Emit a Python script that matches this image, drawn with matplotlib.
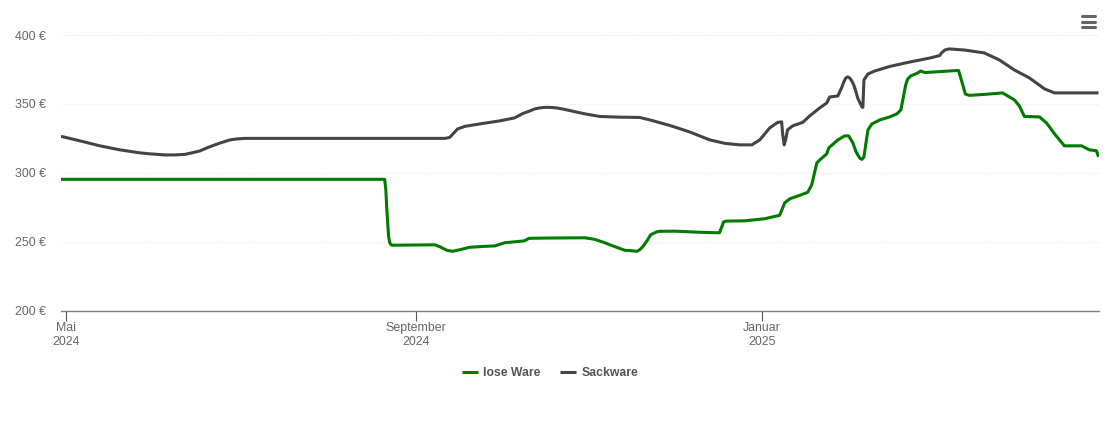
#!/usr/bin/env python3
"""Preisverlauf lose Ware / Sackware"""

import pandas as pd
import matplotlib
matplotlib.use("Agg")
import matplotlib.pyplot as plt
from matplotlib.lines import Line2D

plt.rcParams['font.family'] = ['Liberation Sans', 'DejaVu Sans']

W, H = 1110, 422
START = pd.Timestamp("2024-05-01")

# (Tage seit 1. Mai 2024, Preis in Euro)
lose_ware = [
    (-1.9, 295.3), (112.1, 295.3), (112.5, 287.7), (112.8, 275.4), (113.2, 262.3), (113.5, 253.6),
    (113.9, 249.3), (114.2, 248.2), (114.6, 247.5),
    (129.8, 247.8), (131.5, 246.4), (134, 243.8), (136, 243.1), (138.5, 244.2), (142, 246),
    (147.4, 246.7), (150.9, 247), (154.4, 249.3), (158, 250), (161.4, 250.7), (162.9, 252.5),
    (168.5, 252.7), (182.6, 252.9), (186, 251.8), (189.6, 249.3), (191.4, 247.8), (196.7, 243.8),
    (199.1, 243.5), (200.9, 243.1), (201.9, 244.2),
    (203, 246.4), (204.7, 251.4), (205.8, 255.1), (207.2, 256.5), (207.9, 257.2), (209, 257.6),
    (214.3, 257.7), (223, 256.9), (230, 256.5),
    (231.5, 264.5), (232.5, 265), (238.9, 265.2), (245.9, 266.7), (251.2, 269.2), (253, 278.3),
    (254.8, 281.2), (258.3, 283.7), (261.1, 285.9), (262.5, 291.3), (264.3, 307.2), (265.7, 310.1),
    (267.8, 313.8), (268.5, 318.1), (271.7, 323.9), (274.1, 326.8), (275.5, 326.8), (277, 321.7),
    (278, 315.9), (278.7, 313), (279.5, 310.5), (280.2, 309.8), (280.9, 311.6), (281.6, 321.7),
    (282.3, 331.2), (283.7, 335.5), (286.5, 338.4),
    (290, 340.6), (292.5, 342.8), (293.9, 345.7), (295.6, 363.8), (296.3, 368.1), (297.4, 370.3),
    (298.1, 371), (299.5, 372.1),
    (300.9, 373.9), (302.3, 372.8), (305.8, 373.2), (311, 373.9), (314.2, 374.3), (315.2, 367.4),
    (316.6, 357.2), (318, 356.2), (323.3, 356.9), (329.7, 358), (333.9, 352.9), (335.6, 348.6),
    (337.4, 340.9), (342.7, 340.6), (345.2, 336.2), (348, 328.3), (351.5, 319.6), (357.5, 319.6),
    (360.3, 316.7), (362.8, 316), (363.5, 311.6),
]
sackware = [
    (-1.9, 326.5), (4.8, 323.2), (11.8, 319.6), (18.8, 316.7), (25.9, 314.5), (29.4, 313.8),
    (34.7, 313), (38.2, 313), (41.7, 313.4), (44.2, 314.5), (47, 315.9), (49.5, 318.1),
    (52.3, 320.3), (54.8, 322.1), (57.6, 323.9), (60, 324.6), (62.9, 325), (71.7, 325),
    (133.3, 325), (135, 325.7), (137.8, 331.9), (140.3, 333.7), (145.6, 335.5), (152.6, 337.7),
    (157.9, 339.9), (160.7, 343), (163.2, 344.9), (165, 346.4), (166.7, 347.1), (168.5, 347.5),
    (170.2, 347.5), (172.7, 347.1), (175.5, 346), (182.6, 342.8),
    (187.9, 340.9), (194.9, 340.4), (201.9, 340.2), (205.5, 338.4), (212.5, 334.4), (219.5, 329.7),
    (226.6, 323.9), (231.9, 321.4), (237.1, 320.3), (241.4, 320.3), (244.2, 323.9), (247.7, 332.6),
    (250.5, 336.6), (251.9, 337), (252.3, 327.5), (252.8, 320.3), (253.3, 323.9), (254, 331.2),
    (255.8, 334.1), (259.3, 336.6), (261.8, 341.3), (265.3, 347.1), (267.8, 350.7), (268.8, 355),
    (271.7, 355.8), (273, 361.6), (273.8, 366), (274.5, 368.8), (275.2, 369.6), (275.9, 368.8),
    (276.6, 366.7), (277.3, 363.8), (278, 359.4), (278.7, 354.3), (279.5, 350.7),
    (280.2, 347.8), (280.5, 347.5), (280.9, 367.4), (282.3, 371.7), (284.7, 373.9), (290, 377.2),
    (297, 380.4), (304.1, 383.3), (307.6, 385.1), (308.2, 387), (309.4, 389.1), (310, 389.5),
    (311, 389.9), (316.3, 389.1),
    (323.3, 387), (328.6, 381.9), (333.9, 374.6), (339.2, 368.8), (344.5, 360.9), (348, 358),
    (363.5, 358),
]


def to_frame(points):
    df = pd.DataFrame(points, columns=["tag", "preis"])
    df["datum"] = START + pd.to_timedelta(df["tag"], unit="D")
    return df


fig = plt.figure(figsize=(W / 100, H / 100), dpi=100, facecolor="white")
ax = fig.add_axes([61 / W, 1 - 310.7 / H, (1098.5 - 61) / W, (310.7 - 35) / H])

for points, color, label in [(lose_ware, "#007a00", "lose Ware"), (sackware, "#444444", "Sackware")]:
    df = to_frame(points)
    ax.plot(df["datum"], df["preis"], color=color, lw=2.2, label=label,
            solid_joinstyle="round", solid_capstyle="butt", clip_on=True)

ax.set_xlim(START + pd.Timedelta(days=-1.9), START + pd.Timedelta(days=363.5))
ax.set_ylim(200, 400)

# Achsen
for name in ["top", "left", "right"]:
    ax.spines[name].set_visible(False)
ax.spines["bottom"].set_color("#7f7f7f")
ax.spines["bottom"].set_linewidth(1.0)

ax.set_yticks([200, 250, 300, 350, 400])
ax.set_yticklabels([f"{v} €" for v in [200, 250, 300, 350, 400]])
ax.tick_params(axis="y", length=0, pad=11, labelsize=8.9, labelcolor="#666666")
ax.grid(axis="y", color="#ececec", lw=0.7, ls=(0, (1, 1)))
ax.set_axisbelow(True)

ax.set_xticks([pd.Timestamp("2024-05-01"), pd.Timestamp("2024-09-01"), pd.Timestamp("2025-01-01")])
ax.set_xticklabels(["Mai\n2024", "September\n2024", "Januar\n2025"], linespacing=1.2)
ax.tick_params(axis="x", length=7, width=0.8, color="#555555", pad=1, labelsize=8.9, labelcolor="#666666")

# Legende
handles, labels = ax.get_legend_handles_labels()
fig.legend(handles, labels, loc="center", bbox_to_anchor=(550 / W, 1 - 373 / H), ncol=2, frameon=False,
           prop={"size": 8.8, "weight": "bold"}, labelcolor="#555555", handlelength=1.3,
           handletextpad=0.45, columnspacing=1.6)

# Menue-Symbol oben rechts
for y in [16, 21.5, 26.5]:
    fig.add_artist(Line2D([1081.5 / W, 1094.5 / W], [1 - y / H, 1 - y / H], color="#666666", lw=2.2,
                          solid_capstyle="round"))

plt.savefig("out.png", dpi=100, facecolor="white")
plt.close()
